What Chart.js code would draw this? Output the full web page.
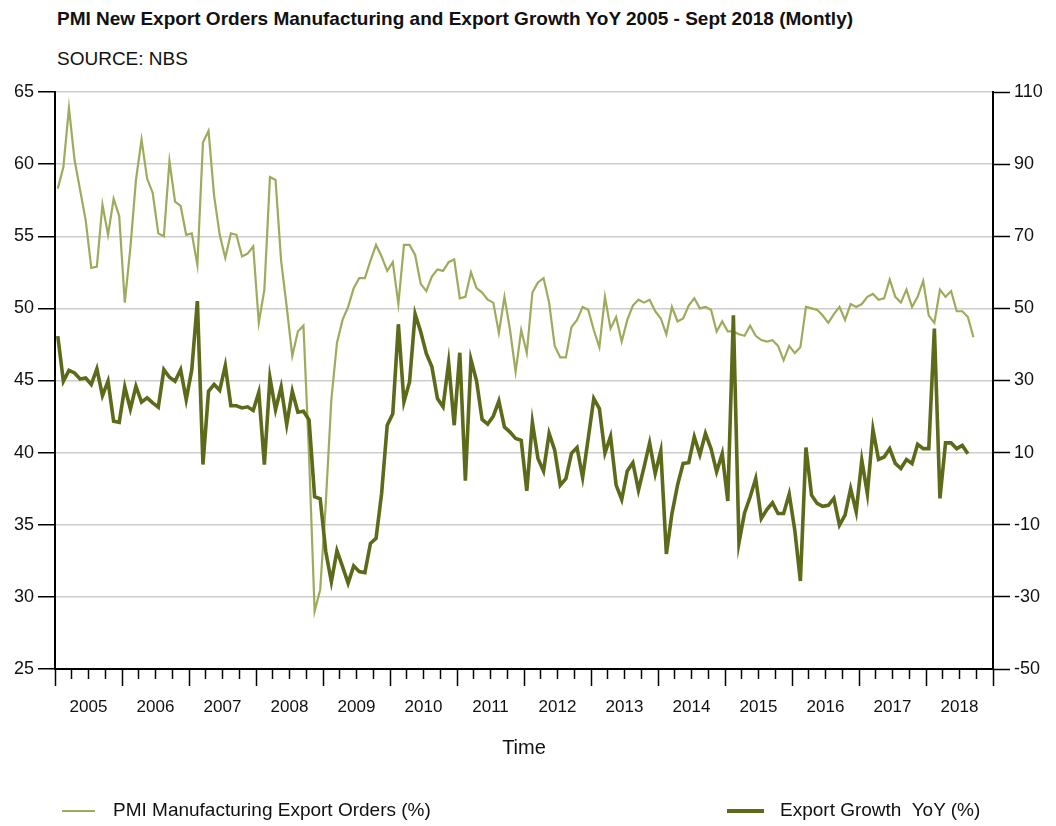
<!DOCTYPE html>
<html>
<head>
<meta charset="utf-8">
<script src="https://cdn.jsdelivr.net/npm/chart.js@4.4.0/dist/chart.umd.min.js"></script>
<style>
    body { margin: 0; background: #fff; font-family: "Liberation Sans", Arial, sans-serif; color: #111; }
    #contenedor { position: relative; width: 1056px; height: 826px; overflow: hidden; }
    #grafico { position: absolute; left: 0; top: 0; }
    .titulo { position: absolute; left: 57px; top: 8px; font-size: 19px; font-weight: bold; white-space: nowrap; }
    .fuente { position: absolute; left: 57px; top: 48px; font-size: 19px; white-space: nowrap; }
    .leyenda { position: absolute; top: 799px; font-size: 19px; white-space: nowrap; line-height: 22px; }
    .leyenda span.linea { display: inline-block; vertical-align: middle; margin-right: 18px; }
</style>
</head>
<body>
<div id="contenedor">
    <div class="titulo">PMI New Export Orders Manufacturing and Export Growth YoY 2005 - Sept 2018 (Montly)</div>
    <div class="fuente">SOURCE: NBS</div>
    <canvas id="grafico" width="1056" height="826"></canvas>
    <div class="leyenda" style="left:62px"><span class="linea" style="width:33px;height:2px;background:#9dab5c"></span>PMI Manufacturing Export Orders (%)</div>
    <div class="leyenda" style="left:727px"><span class="linea" style="width:37px;height:4px;background:#5c6a1a;margin-right:16px"></span>Export Growth&nbsp; YoY (%)</div>
</div>
<script>
// etiquetas de los años (eje x)
var anios = ['2005', '2006', '2007', '2008', '2009', '2010', '2011', '2012', '2013', '2014', '2015', '2016', '2017', '2018'];

// PMI nuevos pedidos de exportacion, ene 2005 - sep 2018
var pmiExportOrders = [
    58.3, 59.8, 63.9, 60.3, 58.2, 56.1, 52.8, 52.9, 57.2, 55.1, 57.6, 56.4,
    50.4, 54.2, 58.9, 61.7, 59.0, 58.0, 55.2, 55.0, 60.2, 57.4, 57.1, 55.1,
    55.2, 53.0, 61.5, 62.3, 57.8, 55.1, 53.5, 55.2, 55.1, 53.6, 53.8, 54.3,
    49.0, 51.3, 59.1, 58.9, 53.3, 50.1, 46.7, 48.4, 48.8, 39.8, 29.0, 30.5,
    36.5, 43.7, 47.6, 49.2, 50.1, 51.4, 52.1, 52.1, 53.3, 54.4, 53.6, 52.6,
    53.2, 50.3, 54.4, 54.4, 53.7, 51.7, 51.2, 52.2, 52.7, 52.6, 53.2, 53.4,
    50.7, 50.8, 52.5, 51.4, 51.1, 50.6, 50.4, 48.3, 50.8, 48.5, 45.6, 48.5,
    46.9, 51.1, 51.8, 52.1, 50.4, 47.4, 46.6, 46.6, 48.7, 49.2, 50.1, 49.9,
    48.5, 47.3, 50.8, 48.6, 49.4, 47.7, 49.2, 50.2, 50.6, 50.4, 50.6, 49.8,
    49.3, 48.2, 50.1, 49.1, 49.3, 50.2, 50.7, 50.0, 50.1, 49.9, 48.4, 49.1,
    48.4, 48.4, 48.2, 48.1, 48.8, 48.1, 47.8, 47.7, 47.8, 47.4, 46.4, 47.4,
    46.9, 47.3, 50.1, 50.0, 49.9, 49.5, 49.0, 49.6, 50.1, 49.2, 50.3, 50.1,
    50.3, 50.8, 51.0, 50.6, 50.7, 52.0, 50.8, 50.4, 51.3, 50.1, 50.8, 51.9,
    49.5, 49.0, 51.3, 50.8, 51.2, 49.8, 49.8, 49.4, 48.0
];

// crecimiento exportaciones interanual (%), ene 2005 - ago 2018
var exportGrowth = [
    42.3, 29.8, 32.8, 32.1, 30.4, 30.7, 28.9, 33.2, 25.8, 29.8, 18.7, 18.4,
    28.2, 22.1, 28.4, 24.0, 25.2, 23.8, 22.6, 33.0, 30.9, 29.8, 33.0, 24.7,
    33.0, 52.0, 6.7, 27.0, 28.9, 27.3, 34.1, 23.0, 23.0, 22.4, 22.7, 21.7,
    26.7, 6.7, 30.7, 21.9, 28.2, 17.8, 27.0, 21.2, 21.5, 19.1, -2.2, -2.8,
    -17.5, -25.8, -17.2, -21.6, -26.2, -21.4, -23.0, -23.3, -15.2, -13.8, -1.3, 17.6,
    20.8, 45.6, 24.1, 29.6, 48.4, 43.5, 37.5, 33.8, 25.0, 22.7, 34.9, 17.6,
    37.7, 2.2, 35.8, 29.9, 19.2, 17.9, 20.1, 24.3, 17.1, 15.7, 13.9, 13.4,
    -0.6, 18.4, 8.4, 4.9, 15.3, 10.7, 1.0, 2.8, 9.8, 11.4, 3.1, 13.9,
    25.0, 22.2, 9.9, 14.5, 1.0, -3.0, 4.9, 7.2, -0.4, 6.0, 12.7, 4.2,
    10.5, -18.1, -6.9, 1.0, 7.0, 7.2, 14.4, 9.4, 15.3, 11.1, 4.7, 9.7,
    -3.4, 48.1, -15.0, -6.7, -2.3, 2.8, -8.3, -5.8, -3.9, -6.9, -6.9, -1.5,
    -11.5, -25.6, 11.4, -1.8, -4.1, -4.9, -4.6, -2.7, -10.1, -7.3, 0.0, -6.4,
    7.9, -1.4, 16.4, 8.1, 8.8, 11.1, 7.0, 5.6, 8.1, 7.0, 12.3, 11.1,
    11.1, 44.4, -2.7, 12.7, 12.7, 11.1, 12.0, 9.7
];

// cada mes se coloca en el centro de su intervalo (mes 0 = ene 2005)
function puntosMensuales(valores) {
    var salida = [];
    for (var i = 0; i < valores.length; i++) {
        salida.push({ x: i + 0.5, y: valores[i] });
    }
    return salida;
}

var colorTexto = '#111';
var familia = '"Liberation Sans", Arial, sans-serif';

var miGrafico = new Chart(document.getElementById('grafico').getContext('2d'), {
    type: 'line',
    data: {
        datasets: [
            {
                label: 'PMI Manufacturing Export Orders (%)',
                data: puntosMensuales(pmiExportOrders),
                yAxisID: 'y',
                borderColor: '#9dab5c',
                borderWidth: 2.2,
                pointRadius: 0,
                fill: false,
                tension: 0,
                order: 2
            },
            {
                label: 'Export Growth  YoY (%)',
                data: puntosMensuales(exportGrowth),
                yAxisID: 'y1',
                borderColor: '#5c6a1a',
                borderWidth: 3.6,
                pointRadius: 0,
                fill: false,
                tension: 0,
                order: 1
            }
        ]
    },
    options: {
        responsive: false,
        animation: false,
        devicePixelRatio: 1,
        layout: { padding: { top: 92, left: 0, right: 0, bottom: 57 } },
        plugins: {
            legend: { display: false },
            tooltip: { enabled: false }
        },
        scales: {
            x: {
                type: 'linear',
                min: 0,
                max: 168,
                afterBuildTicks: function (scale) {
                    var t = [];
                    for (var v = 0; v <= 168; v += 3) t.push({ value: v });
                    scale.ticks = t;
                },
                afterFit: function (scale) { scale.height = 100; },
                grid: {
                    drawOnChartArea: false,
                    tickLength: 17,
                    tickColor: '#000',
                    tickWidth: 1.5,
                    // ticks trimestrales cortos, ticks anuales largos
                    tickBorderDash: function (ctx) {
                        return (ctx.tick && ctx.tick.value % 12 === 0) ? [] : [9, 40];
                    }
                },
                border: { color: '#000', width: 2 },
                ticks: {
                    autoSkip: false,
                    maxRotation: 0,
                    padding: 11,
                    color: colorTexto,
                    font: { family: familia, size: 17 },
                    callback: function (v) {
                        return (v % 12 === 6) ? anios[(v - 6) / 12] : '';
                    }
                },
                title: {
                    display: true,
                    text: 'Time',
                    color: colorTexto,
                    font: { family: familia, size: 20 },
                    padding: { top: 0, bottom: 9 }
                }
            },
            y: {
                position: 'left',
                min: 25,
                max: 65,
                afterFit: function (scale) { scale.width = 55; },
                ticks: { stepSize: 5, padding: 4, color: colorTexto, font: { family: familia, size: 18 } },
                grid: { color: '#cdcdcd', lineWidth: 1.5, tickLength: 17, tickColor: '#000', tickWidth: 1.5 },
                border: { color: '#000', width: 2 }
            },
            y1: {
                position: 'right',
                min: -50,
                max: 110,
                afterFit: function (scale) { scale.width = 63; },
                ticks: { stepSize: 20, padding: 4, color: colorTexto, font: { family: familia, size: 18 } },
                grid: { drawOnChartArea: false, tickLength: 17, tickColor: '#000', tickWidth: 1.5 },
                border: { color: '#000', width: 2 }
            }
        }
    }
});
</script>
</body>
</html>
